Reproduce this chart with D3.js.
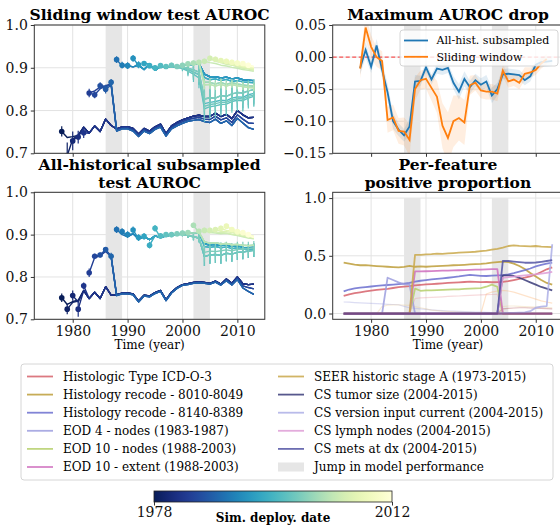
<!DOCTYPE html>
<html><head><meta charset="utf-8">
<script src="https://cdn.jsdelivr.net/npm/d3@7/dist/d3.min.js"></script>
<style>
html,body{margin:0;padding:0;background:#fff;}
svg{display:block;}
</style></head><body>
<svg id="chart" width="560" height="525"></svg>
<script>
// ================= DATA =================
const xTickYears = [1980, 1990, 2000, 2010];
const jumpBands = [[1986, 1989], [2002, 2005]];
const aurocTicks = [0.7, 0.8, 0.9, 1.0];
const dropTicks = [0.05, 0.00, -0.05, -0.10, -0.15];
const propTicks = [0.0, 0.5, 1.0];
const cbarRange = [1978, 2012];

// ---- Sliding window test AUROC (segments) ----
const swLowZig = [0.742, 0.761, 0.747, 0.764, 0.751, 0.780, 0.765]; // 1981..1987
const swLowTailTop = [0.757,0.762,0.762,0.758,0.745,0.758,0.752,0.762,0.768,0.746,0.764,0.772,0.778,0.783,0.787,0.789,0.786,0.786,0.794,0.786,0.791,0.781,0.800,0.790,0.783,0.784]; // 1988..2013
const swLowTailMid = [0.755,0.759,0.760,0.755,0.742,0.755,0.749,0.759,0.765,0.743,0.760,0.768,0.774,0.779,0.782,0.784,0.780,0.779,0.787,0.778,0.783,0.772,0.790,0.780,0.771,0.770];
const swLowTailLow = [0.752,0.757,0.757,0.752,0.739,0.752,0.746,0.756,0.761,0.740,0.757,0.764,0.770,0.775,0.777,0.779,0.774,0.772,0.780,0.770,0.776,0.765,0.782,0.771,0.760,0.756];
const swUpStarts = [0.919,0.906,0.905,0.922,0.907,0.910,0.905,0.900,0.905,0.903,0.906,0.903,0.906,0.909,0.911,0.913]; // deploy 1988..2003
const swUpBase = [0.919,0.904,0.905,0.902,0.906,0.896,0.909,0.894,0.903,0.900,0.903,0.901,0.905,0.907,0.908,0.910]; // 1988..2003
const swMidTailDark = [0.885,0.879,0.879,0.876,0.878,0.874,0.876,0.872,0.871,0.870]; // 2004..2013
const swMidTailB = [0.877,0.872,0.874,0.870,0.873,0.868,0.870,0.867,0.866,0.865];
const swTealPreA = [0.902,0.899,0.895,0.890]; // 2000..2003
const swTealPreB = [0.900,0.896,0.890,0.884];
const swTealPreC = [0.898,0.892,0.885,0.876];
const swTealPreErr = [0.006,0.012,0.018,0.024];
const swTealTailA = [0.827,0.830,0.829,0.835,0.833,0.839,0.842,0.841,0.846,0.849];
const swTealTailB = [0.816,0.819,0.821,0.824,0.823,0.829,0.832,0.831,0.837,0.840];
const swTealTailC = [0.804,0.809,0.811,0.814,0.815,0.821,0.824,0.823,0.829,0.833];
const swTealTailD = [0.810,0.814,0.816,0.819,0.819,0.825,0.828,0.827,0.833,0.836];
const swTealErr = [0.030,0.029,0.028,0.027,0.027,0.026,0.025,0.025,0.024,0.024];
const swGreenTail = [0.866,0.866,0.862,0.866,0.861,0.865,0.862,0.860,0.858,0.857];
const swGreenTail2 = [0.860,0.861,0.857,0.861,0.857,0.861,0.858,0.856,0.854,0.853];
const swGreenErr = [0.010,0.010,0.009,0.009,0.009,0.008,0.008,0.008,0.008,0.008];
const swY2004 = [0.915,0.912,0.910,0.906,0.904,0.901,0.899,0.896,0.894,0.892];
const swY2005 = [0.922,0.915,0.912,0.908,0.906,0.902,0.899,0.897,0.894];
const swY2006 = [0.920,0.914,0.911,0.907,0.904,0.901,0.899,0.896];
const swY2007 = [0.917,0.913,0.909,0.906,0.903,0.900,0.898];
const swY2008 = [0.915,0.912,0.908,0.905,0.902,0.900];
const swY2009 = [0.913,0.909,0.906,0.903,0.901];
const swY2010 = [0.911,0.907,0.904,0.902];
const swY2011 = [0.910,0.906,0.903];
const swY2012 = [0.906,0.902];

// ---- All-historical subsampled test AUROC ----
const ahLowZig = [0.768,0.749,0.764,0.749,0.777,0.757]; // 1982..1987
const ahLowTailTop = [0.758,0.762,0.762,0.760,0.743,0.757,0.755,0.763,0.768,0.746,0.764,0.775,0.782,0.784,0.787,0.788,0.787,0.785,0.790,0.783,0.795,0.785,0.800,0.784,0.782,0.783];
const ahLowTailMid = [0.757,0.761,0.761,0.759,0.742,0.756,0.754,0.762,0.767,0.745,0.763,0.774,0.781,0.783,0.786,0.787,0.786,0.784,0.789,0.782,0.793,0.783,0.797,0.779,0.775,0.772];
const ahLowTailLow = [0.756,0.760,0.760,0.758,0.741,0.755,0.753,0.761,0.766,0.744,0.762,0.773,0.780,0.782,0.785,0.786,0.785,0.783,0.788,0.781,0.791,0.781,0.794,0.774,0.766,0.759];
const ahUpStarts = [0.912,0.907,0.900,0.911,0.893,0.896,0.875,0.915,0.897,0.900,0.900,0.902,0.904,0.905,0.922,0.908];
const ahUpBase = [0.912,0.900,0.895,0.902,0.890,0.895,0.888,0.897,0.893,0.897,0.899,0.900,0.902,0.903,0.904,0.905];
const ahMidTailDark = [0.878,0.876,0.877,0.874,0.876,0.872,0.874,0.870,0.869,0.870];
const ahMidTailB = [0.872,0.870,0.872,0.869,0.871,0.867,0.869,0.866,0.864,0.866];
const ahTealPre = [0.900,0.898,0.895,0.892];
const ahTealPreErr = [0.004,0.006,0.008,0.010];
const ahTealTail = [0.848,0.852,0.853,0.851,0.856,0.854,0.858,0.859,0.861,0.863];
const ahTealTail2 = [0.858,0.861,0.860,0.862,0.864,0.862,0.865,0.866,0.867,0.869];
const ahTealErr = [0.022,0.021,0.020,0.020,0.019,0.018,0.018,0.017,0.016,0.016];
const ahGreenTail = [0.883,0.880,0.881,0.878,0.879,0.876,0.877,0.875,0.874,0.875];
const ahY2004 = [0.910,0.905,0.904,0.902,0.903,0.900,0.898,0.895,0.892,0.890];
const ahY2005 = [0.910,0.906,0.905,0.904,0.901,0.899,0.896,0.893,0.891];
const ahY2006 = [0.912,0.908,0.907,0.905,0.902,0.899,0.896,0.893];
const ahY2007 = [0.915,0.910,0.908,0.904,0.901,0.897,0.894];
const ahY2008 = [0.920,0.912,0.908,0.904,0.900,0.896];
const ahY2009 = [0.912,0.907,0.903,0.898,0.895];
const ahY2010 = [0.907,0.902,0.898,0.893];
const ahY2011 = [0.905,0.900,0.895];
const ahY2012 = [0.900,0.893];

// ---- Maximum AUROC drop ----
const dropStartYear = 1978;
const ahDrop = [-0.017,0.011,-0.015,0.018,-0.020,-0.055,-0.100,-0.113,-0.122,-0.108,-0.038,-0.037,-0.016,-0.035,-0.018,-0.020,-0.017,-0.040,-0.054,-0.034,-0.047,-0.036,-0.043,-0.038,-0.060,-0.050,-0.027,-0.026,-0.027,-0.028,-0.036,-0.030,-0.012,-0.008,-0.007,-0.006];
const ahDropErr = [0.010,0.012,0.010,0.010,0.012,0.014,0.012,0.010,0.010,0.012,0.010,0.008,0.008,0.008,0.008,0.008,0.008,0.010,0.012,0.012,0.010,0.010,0.010,0.010,0.012,0.010,0.008,0.008,0.008,0.008,0.008,0.008,0.008,0.008,0.008,0.008];
const swDrop = [-0.018,0.046,0.016,0.000,-0.006,-0.098,-0.094,-0.115,-0.116,-0.129,-0.050,-0.036,-0.034,-0.048,-0.062,-0.107,-0.126,-0.100,-0.095,-0.102,-0.044,-0.040,-0.052,-0.054,-0.054,-0.057,-0.021,-0.038,-0.035,-0.040,-0.026,-0.024,-0.020,-0.010,-0.003];
const swDropErr = [0.015,0.020,0.018,0.015,0.015,0.020,0.020,0.020,0.022,0.025,0.018,0.015,0.015,0.020,0.025,0.035,0.040,0.040,0.035,0.035,0.015,0.012,0.012,0.012,0.012,0.012,0.010,0.010,0.010,0.010,0.010,0.008,0.008,0.008,0.008];

// ---- Per-feature positive proportion (1975..2013) ----
const propStartYear = 1975;
const featureLabels = ["Histologic Type ICD-O-3","Histology recode - 8010-8049","Histology recode - 8140-8389","EOD 4 - nodes (1983-1987)","EOD 10 - nodes (1988-2003)","EOD 10 - extent (1988-2003)","SEER historic stage A (1973-2015)","CS tumor size (2004-2015)","CS version input current (2004-2015)","CS lymph nodes (2004-2015)","CS mets at dx (2004-2015)"];
const histType = [0.152,0.166,0.176,0.184,0.192,0.198,0.204,0.209,0.214,0.221,0.229,0.233,0.237,0.243,0.248,0.252,0.255,0.258,0.262,0.265,0.268,0.270,0.273,0.276,0.274,0.272,0.273,0.271,0.272,0.275,0.281,0.290,0.300,0.310,0.322,0.338,0.360,0.383,0.400];
const hist8010 = [0.440,0.432,0.424,0.418,0.420,0.415,0.411,0.408,0.405,0.402,0.400,0.404,0.412,0.405,0.408,0.405,0.409,0.410,0.412,0.415,0.418,0.420,0.422,0.425,0.428,0.430,0.434,0.440,0.445,0.450,0.446,0.432,0.412,0.385,0.352,0.320,0.290,0.265,0.250];
const hist8140 = [0.192,0.208,0.218,0.224,0.229,0.234,0.239,0.244,0.247,0.250,0.254,0.259,0.265,0.276,0.284,0.290,0.295,0.300,0.305,0.310,0.315,0.321,0.329,0.334,0.330,0.326,0.325,0.328,0.330,0.332,0.340,0.350,0.362,0.375,0.390,0.408,0.422,0.432,0.440];
const eod4Nodes = [0,0,0,0,0,0,0,0,0.310,0.290,0.270,0.255,0.250,0,0,0,0,0,0,0,0,0,0,0,0,0,0,0,0,0,0,0,0,0,0,0,0,0,0];
const eod10Nodes = [0,0,0,0,0,0,0,0,0,0,0,0,0,0.215,0.197,0.200,0.200,0.203,0.205,0.207,0.210,0.210,0.213,0.215,0.218,0.220,0.232,0.250,0.232,0,0,0,0,0,0,0,0,0,0];
const eod10Extent = [0,0,0,0,0,0,0,0,0,0,0,0,0,0.365,0.365,0.366,0.368,0.370,0.371,0.372,0.374,0.375,0.376,0.378,0.380,0.381,0.383,0.385,0.384,0,0,0,0,0,0,0,0,0,0];
const seerStageA = [0,0,0,0,0,0,0,0,0,0,0,0,0,0.508,0.508,0.512,0.514,0.518,0.517,0.521,0.524,0.527,0.530,0.532,0.535,0.540,0.545,0.553,0.560,0.570,0.585,0.590,0.586,0.584,0.582,0.585,0.580,0.578,0.575];
const csTumorSize = [0,0,0,0,0,0,0,0,0,0,0,0,0,0,0,0,0,0,0,0,0,0,0,0,0,0,0,0,0,0.330,0.330,0.325,0.310,0.290,0.270,0.250,0.230,0.215,0.200];
const csVersion = [0,0,0,0,0,0,0,0,0,0,0,0,0,0,0,0,0,0,0,0,0,0,0,0,0,0,0,0,0,0.004,0.005,0.006,0.008,0.010,0.020,0.050,0.060,0.065,0.600];
const csLymph = [0,0,0,0,0,0,0,0,0,0,0,0,0,0,0,0,0,0,0,0,0,0,0,0,0,0,0,0,0,0.310,0.315,0.320,0.325,0.330,0.335,0.340,0.345,0.352,0.360];
const csMets = [0,0,0,0,0,0,0,0,0,0,0,0,0,0,0,0,0,0,0,0,0,0,0,0,0,0,0,0,0,0.455,0.455,0.450,0.445,0.440,0.440,0.442,0.448,0.455,0.462];
// unlabelled features (faint)
const otherLavender = [0.100,0.098,0.095,0.093,0.090,0.088,0.086,0.083,0.080,0.078,0.076,0.062,0.050,0.045,0.040,0.036,0.032,0.028,0.025,0.022,0.020,0.018,0.016,0.015,0.013,0.012,0.010,0.009,0.008,0.006,0.005,0.004,0.004,0.003,0.003,0.002,0.002,0.001,0.001];
const otherPink = [0,0,0,0,0,0,0,0,0,0,0,0,0,0.130,0.135,0.138,0.140,0.142,0.145,0.148,0.150,0.152,0.155,0.157,0.160,0.162,0.163,0.165,0.166,0,0,0,0,0,0,0,0,0,0];
const otherPeach = [0,0,0,0,0,0,0,0,0,0,0,0,0,0,0,0,0,0,0,0,0,0,0,0,0,0,0.170,0.185,0.195,0.200,0.195,0.185,0.170,0.155,0.140,0.125,0.110,0.100,0.090];
const otherTan = [0,0,0,0,0,0,0,0.060,0.072,0.075,0.076,0.073,0.070,0.060,0.050,0.040,0.030,0.025,0.020,0.018,0.015,0.012,0.010,0.010,0.008,0.008,0.006,0.005,0.005,0.060,0.065,0.065,0.062,0.060,0.058,0.056,0.055,0.053,0.050];
const otherBrown = [0,0,0,0,0,0,0,0,0,0,0,0,0,0,0,0,0,0,0,0,0,0,0,0,0,0,0,0,0,0.040,0.045,0.048,0.050,0.050,0.048,0.047,0.045,0.043,0.040];
const otherZero = [0,0,0,0,0,0,0,0,0,0,0,0,0,0,0,0,0,0,0,0,0,0,0,0,0,0,0,0,0,0,0,0,0,0,0,0,0,0,0];

// ================= LINE TABLES (built from arrays) =================
const swLines = [
  {d:1978, v:[0.751,0.737,0.739].concat(swLowZig, swLowTailTop), e0:0.012},
  {d:1979, v:[0.695,0.733].concat(swLowZig, swLowTailTop), e0:0.03},
  {d:1980, v:[0.729].concat(swLowZig, swLowTailTop), e0:0.022},
  {d:1981, v:[0.738].concat(swLowZig.slice(1), swLowTailTop), e0:0.015},
  {d:1982, v:[0.748].concat(swLowZig.slice(2), swLowTailTop), e0:0.012},
  {d:1983, v:[0.841,0.846,0.855,0.858,0.862].concat(swLowTailMid), e0:0.010},
  {d:1984, v:[0.837,0.851,0.856,0.860].concat(swLowTailMid), e0:0.008},
  {d:1985, v:[0.858,0.855,0.863].concat(swLowTailLow), e0:0.008},
  {d:1986, v:[0.850,0.859].concat(swLowTailLow), e0:0.010},
  {d:1987, v:[0.866].concat(swLowTailLow), e0:0.008}
];
function upLine(d, starts, base, pre, tail, errFrom, errs, e0){
  const i = d - 1988;
  let v = [starts[i]];
  if (pre) v = v.concat(base.slice(i + 1, 12), pre, tail);
  else v = v.concat(base.slice(i + 1), tail);
  return {d, v, e0, ef: errFrom, ev: errs};
}
[1988,1989,1990,1991,1992].forEach(d=>swLines.push(upLine(d, swUpStarts, swUpBase, null, swMidTailDark, null, null, 0.008)));
[1993,1994].forEach(d=>swLines.push(upLine(d, swUpStarts, swUpBase, null, swMidTailB, null, null, 0.006)));
swLines.push(upLine(1995, swUpStarts, swUpBase, swTealPreA, swTealTailA, 2000, swTealPreErr.concat(swTealErr), 0.006));
swLines.push(upLine(1996, swUpStarts, swUpBase, swTealPreB, swTealTailB, 2000, swTealPreErr.concat(swTealErr), 0.006));
swLines.push(upLine(1997, swUpStarts, swUpBase, swTealPreC, swTealTailC, 2000, swTealPreErr.concat(swTealErr), 0.006));
swLines.push(upLine(1998, swUpStarts, swUpBase, swTealPreB, swTealTailD, 2000, swTealPreErr.concat(swTealErr), 0.006));
swLines.push(upLine(1999, swUpStarts, swUpBase, swTealPreA, swTealTailA, 2000, swTealPreErr.concat(swTealErr), 0.006));
[2000,2001].forEach(d=>swLines.push(upLine(d, swUpStarts, swUpBase, null, swGreenTail, 2004, swGreenErr, 0.006)));
[2002,2003].forEach(d=>swLines.push(upLine(d, swUpStarts, swUpBase, null, swGreenTail2, 2004, swGreenErr, 0.006)));
[[2004,swY2004],[2005,swY2005],[2006,swY2006],[2007,swY2007],[2008,swY2008],[2009,swY2009],[2010,swY2010],[2011,swY2011],[2012,swY2012]]
  .forEach(([d,v])=>swLines.push({d, v, e0:0.006}));

const ahLines = [
  {d:1978, v:[0.751,0.735,0.742,0.745].concat(ahLowZig, ahLowTailTop), e0:0.010},
  {d:1979, v:[0.724,0.740,0.743].concat(ahLowZig, ahLowTailTop), e0:0.012},
  {d:1980, v:[0.756,0.741].concat(ahLowZig, ahLowTailTop), e0:0.012},
  {d:1981, v:[0.724].concat(ahLowZig, ahLowTailTop), e0:0.018},
  {d:1982, v:[0.779].concat(ahLowZig.slice(1), ahLowTailTop), e0:0.008},
  {d:1983, v:[0.810,0.846,0.850,0.860,0.848].concat(ahLowTailMid), e0:0.010},
  {d:1984, v:[0.849,0.852,0.863,0.850].concat(ahLowTailMid), e0:0.006},
  {d:1985, v:[0.852,0.865,0.848].concat(ahLowTailLow), e0:0.006},
  {d:1986, v:[0.865,0.846].concat(ahLowTailLow), e0:0.006},
  {d:1987, v:[0.849].concat(ahLowTailLow), e0:0.008}
];
[1988,1989,1990,1991,1992,1993].forEach(d=>ahLines.push(upLine(d, ahUpStarts, ahUpBase, null, ahMidTailDark, null, null, 0.008)));
[1994,1995].forEach(d=>ahLines.push(upLine(d, ahUpStarts, ahUpBase, null, ahMidTailB, null, null, 0.008)));
[1996,1997,1998].forEach(d=>ahLines.push(upLine(d, ahUpStarts, ahUpBase, ahTealPre, ahTealTail, 2000, ahTealPreErr.concat(ahTealErr), 0.006)));
ahLines.push(upLine(1999, ahUpStarts, ahUpBase, ahTealPre, ahTealTail2, 2000, ahTealPreErr.concat(ahTealErr), 0.006));
[2000,2001,2002,2003].forEach(d=>ahLines.push(upLine(d, ahUpStarts, ahUpBase, null, ahGreenTail, null, null, 0.006)));
[[2004,ahY2004],[2005,ahY2005],[2006,ahY2006],[2007,ahY2007],[2008,ahY2008],[2009,ahY2009],[2010,ahY2010],[2011,ahY2011],[2012,ahY2012]]
  .forEach(([d,v])=>ahLines.push({d, v, e0:0.006}));

const featureSeries = [histType, hist8010, hist8140, eod4Nodes, eod10Nodes, eod10Extent, seerStageA, csTumorSize, csVersion, csLymph, csMets];
const featureColors = ["#d6616b","#bd9e39","#6b6ecf","#9c9ede","#b5cf6b","#ce6dbd","#c9a84a","#393b79","#adafe6","#de9ed6","#5254a3"];
const otherSeries = [otherLavender, otherPink, otherPeach, otherTan, otherBrown];
const otherColors = ["#9c9ede","#e7969c","#fdae6b","#e7cb94","#ad494a"];

// ================= DRAWING =================
const F = "DejaVu Serif";
const svg = d3.select("#chart");
const defs = svg.append("defs");
const cmap = d => d3.interpolateYlGnBu(1 - (d - cbarRange[0]) / (cbarRange[1] - cbarRange[0]));
const xDomain = [1973, 2015];
const GRID = "#e3e3e3", BAND = "#e6e6e6", SPINE = "#333";
let clipN = 0;

function makePanel(box, dom, ticks, fmt, showX, bandTop){
  const sx = d3.scaleLinear().domain(xDomain).range([box.x0, box.x1]);
  const sy = d3.scaleLinear().domain(dom).range([box.y1, box.y0]);
  const id = "clip" + (clipN++);
  defs.append("clipPath").attr("id", id).append("rect")
    .attr("x", box.x0).attr("y", box.y0).attr("width", box.x1 - box.x0).attr("height", box.y1 - box.y0);
  const g = svg.append("g");
  g.selectAll(null).data(xTickYears).enter().append("line")
    .attr("x1", d=>sx(d)).attr("x2", d=>sx(d)).attr("y1", box.y0).attr("y2", box.y1)
    .attr("stroke", GRID).attr("stroke-width", 1);
  g.selectAll(null).data(ticks).enter().append("line")
    .attr("x1", box.x0).attr("x2", box.x1).attr("y1", d=>sy(d)).attr("y2", d=>sy(d))
    .attr("stroke", GRID).attr("stroke-width", 1);
  const top = bandTop == null ? box.y0 : sy(bandTop);
  g.selectAll(null).data(jumpBands).enter().append("rect")
    .attr("x", d=>sx(d[0])).attr("width", d=>sx(d[1]) - sx(d[0]))
    .attr("y", top).attr("height", box.y1 - top).attr("fill", BAND);
  const dg = svg.append("g").attr("clip-path", `url(#${id})`);
  return {sx, sy, dg, box, ticks, fmt, showX};
}
function finishPanel(P){
  const b = P.box;
  svg.append("rect").attr("x", b.x0).attr("y", b.y0).attr("width", b.x1 - b.x0).attr("height", b.y1 - b.y0)
    .attr("fill", "none").attr("stroke", SPINE).attr("stroke-width", 1);
  const ay = svg.append("g").attr("transform", `translate(${b.x0},0)`)
    .call(d3.axisLeft(P.sy).tickValues(P.ticks).tickFormat(P.fmt).tickSize(3.5).tickPadding(3));
  const ax = svg.append("g").attr("transform", `translate(0,${b.y1})`)
    .call(d3.axisBottom(P.sx).tickValues(xTickYears).tickFormat(P.showX ? d3.format("d") : () => "").tickSize(3.5).tickPadding(3));
  [ay, ax].forEach(a => {
    a.select(".domain").remove();
    a.attr("font-family", F).attr("font-size", 14);
    a.selectAll("line").attr("stroke", SPINE);
    a.selectAll("text").attr("fill", "#111");
  });
}
function drawAuroc(P, lines){
  const line = d3.line().x(p=>P.sx(p[0])).y(p=>P.sy(p[1]));
  lines.forEach(L => {
    const col = cmap(L.d);
    const pts = L.v.map((v,i)=>[L.d + i, v]);
    P.dg.append("path").attr("d", line(pts)).attr("fill", "none").attr("stroke", col)
      .attr("stroke-width", 1.4).attr("stroke-linejoin", "round");
    const bars = [[L.d, L.v[0], L.e0]];
    if (L.ev) L.ev.forEach((e,i)=>{ const t = L.ef + i; const k = t - L.d; if (k >= 0 && k < L.v.length) bars.push([t, L.v[k], e]); });
    bars.forEach(([t,v,e]) => P.dg.append("line").attr("x1", P.sx(t)).attr("x2", P.sx(t))
      .attr("y1", P.sy(v - e)).attr("y2", P.sy(v + e)).attr("stroke", col).attr("stroke-width", 1.2));
    P.dg.append("circle").attr("cx", P.sx(L.d)).attr("cy", P.sy(L.v[0])).attr("r", 2.8).attr("fill", col);
  });
}

const boxTL = {x0:34.3, x1:264.8, y0:25, y1:153.3};
const boxTR = {x0:332.7, x1:563.2, y0:25, y1:153.3};
const boxBL = {x0:34.3, x1:264.8, y0:192.3, y1:319.3};
const boxBR = {x0:332.7, x1:563.2, y0:192.3, y1:319.3};

// Panel 1
const P1 = makePanel(boxTL, [0.7, 1.0], aurocTicks, d3.format(".1f"), false, null);
drawAuroc(P1, swLines);
finishPanel(P1);
// Panel 3
const P3 = makePanel(boxBL, [0.7, 1.0], aurocTicks, d3.format(".1f"), true, null);
drawAuroc(P3, ahLines);
finishPanel(P3);

// Panel 2: maximum AUROC drop
const P2 = makePanel(boxTR, [-0.15, 0.05], dropTicks, d3.format(".2f"), false, null);
function dropSeries(vals, errs){ return vals.map((v,i)=>({t: dropStartYear + i, v, e: errs[i]})); }
const ahD = dropSeries(ahDrop, ahDropErr), swD = dropSeries(swDrop, swDropErr);
const area = d3.area().x(d=>P2.sx(d.t)).y0(d=>P2.sy(d.v - d.e)).y1(d=>P2.sy(d.v + d.e));
const dline = d3.line().x(d=>P2.sx(d.t)).y(d=>P2.sy(d.v));
P2.dg.append("path").attr("d", area(ahD)).attr("fill", "#1f77b4").attr("opacity", 0.13);
P2.dg.append("path").attr("d", area(swD)).attr("fill", "#ff7f0e").attr("opacity", 0.13);
P2.dg.append("line").attr("x1", boxTR.x0).attr("x2", boxTR.x1).attr("y1", P2.sy(0)).attr("y2", P2.sy(0))
  .attr("stroke", "#ff0000").attr("stroke-opacity", 0.65).attr("stroke-width", 1.2).attr("stroke-dasharray", "4,2.5");
P2.dg.append("path").attr("d", dline(ahD)).attr("fill", "none").attr("stroke", "#1f77b4").attr("stroke-width", 1.8);
P2.dg.append("path").attr("d", dline(swD)).attr("fill", "none").attr("stroke", "#ff7f0e").attr("stroke-width", 1.8);
finishPanel(P2);
// legend of panel 2
const lg2 = svg.append("g");
lg2.append("rect").attr("x", 400).attr("y", 30).attr("width", 158).attr("height", 36).attr("rx", 3)
  .attr("fill", "#fff").attr("fill-opacity", 0.8).attr("stroke", "#cccccc").attr("stroke-width", 0.8);
[["All-hist. subsampled", "#1f77b4"], ["Sliding window", "#ff7f0e"]].forEach(([lab, c], i) => {
  const yy = 40.5 + i * 16.3;
  lg2.append("line").attr("x1", 404).attr("x2", 428).attr("y1", yy).attr("y2", yy).attr("stroke", c).attr("stroke-width", 1.8);
  lg2.append("text").attr("x", 436.5).attr("y", yy).attr("dy", "0.35em").attr("font-family", F).attr("font-size", 11).text(lab);
});

// Panel 4: per-feature positive proportion
const P4 = makePanel(boxBR, [-0.05, 1.05], propTicks, d3.format(".1f"), true, 1.0);
const pline = d3.line().x((v,i)=>P4.sx(propStartYear + i)).y(v=>P4.sy(v));
otherSeries.forEach((s,i)=> P4.dg.append("path").attr("d", pline(s)).attr("fill","none")
  .attr("stroke", otherColors[i]).attr("stroke-opacity", 0.35).attr("stroke-width", 1.2));
featureSeries.forEach((s,i)=> P4.dg.append("path").attr("d", pline(s)).attr("fill","none")
  .attr("stroke", featureColors[i]).attr("stroke-opacity", 0.85).attr("stroke-width", 1.8).attr("stroke-linejoin","round"));
P4.dg.append("path").attr("d", pline(otherZero)).attr("fill","none").attr("stroke", "#7b4173").attr("stroke-opacity", 0.7).attr("stroke-width", 2.2);
finishPanel(P4);

// Titles
function title(lines, cx, y0){
  lines.forEach((t,i)=> svg.append("text").attr("x", cx).attr("y", y0 + i * 18).attr("text-anchor","middle")
    .attr("font-family", F).attr("font-weight","bold").attr("font-size", 15.5).text(t));
}
title(["Sliding window test AUROC"], (boxTL.x0 + boxTL.x1) / 2, 20);
title(["Maximum AUROC drop"], (boxTR.x0 + boxTR.x1) / 2, 20);
title(["All-historical subsampled", "test AUROC"], (boxBL.x0 + boxBL.x1) / 2, 170);
title(["Per-feature", "positive proportion"], (boxTR.x0 + boxTR.x1) / 2, 170);
// x labels
[boxBL, boxBR].forEach(b => svg.append("text").attr("x", (b.x0 + b.x1) / 2).attr("y", 349).attr("text-anchor","middle")
  .attr("font-family", F).attr("font-size", 12).text("Time (year)"));

// Main legend
const legendEntries = featureLabels.map((l,i)=>({label:l, color:featureColors[i], patch:false}))
  .concat([{label:"Jump in model performance", color:BAND, patch:true}]);
const lg = svg.append("g");
lg.append("rect").attr("x", 21).attr("y", 364).attr("width", 532).attr("height", 116).attr("rx", 3)
  .attr("fill", "#fff").attr("stroke", "#cccccc").attr("stroke-width", 0.8);
legendEntries.forEach((e, i) => {
  const col = Math.floor(i / 6), row = i % 6;
  const hx = col === 0 ? 27 : 278, tx = col === 0 ? 63 : 314;
  const yy = 376.5 + row * 18.1;
  if (e.patch) lg.append("rect").attr("x", hx).attr("y", yy - 4.5).attr("width", 26).attr("height", 9).attr("fill", e.color);
  else lg.append("line").attr("x1", hx).attr("x2", hx + 26).attr("y1", yy).attr("y2", yy).attr("stroke", e.color).attr("stroke-opacity", 0.85).attr("stroke-width", 1.8);
  lg.append("text").attr("x", tx).attr("y", yy).attr("dy", "0.35em").attr("font-family", F).attr("font-size", 12).text(e.label);
});

// Colorbar
const cb = {x0:154, x1:392, y0:491, y1:502};
const grad = defs.append("linearGradient").attr("id", "cbgrad").attr("x1","0%").attr("x2","100%").attr("y1","0%").attr("y2","0%");
d3.range(0, 1.0001, 0.05).forEach(f => grad.append("stop").attr("offset", (f*100) + "%")
  .attr("stop-color", cmap(cbarRange[0] + f * (cbarRange[1] - cbarRange[0]))));
svg.append("rect").attr("x", cb.x0).attr("y", cb.y0).attr("width", cb.x1 - cb.x0).attr("height", cb.y1 - cb.y0)
  .attr("fill", "url(#cbgrad)").attr("stroke", "#222").attr("stroke-width", 0.8);
const cbx = d3.scaleLinear().domain(cbarRange).range([cb.x0, cb.x1]);
const cba = svg.append("g").attr("transform", `translate(0,${cb.y1})`)
  .call(d3.axisBottom(cbx).tickValues(cbarRange).tickFormat(d3.format("d")).tickSize(3.5).tickPadding(2));
cba.select(".domain").remove();
cba.attr("font-family", F).attr("font-size", 14);
cba.selectAll("line").attr("stroke", SPINE);
cba.selectAll("text").attr("fill", "#111");
svg.append("text").attr("x", (cb.x0 + cb.x1) / 2).attr("y", 521.5).attr("text-anchor","middle")
  .attr("font-family", F).attr("font-weight","bold").attr("font-size", 12).text("Sim. deploy. date");
</script>
</body></html>
